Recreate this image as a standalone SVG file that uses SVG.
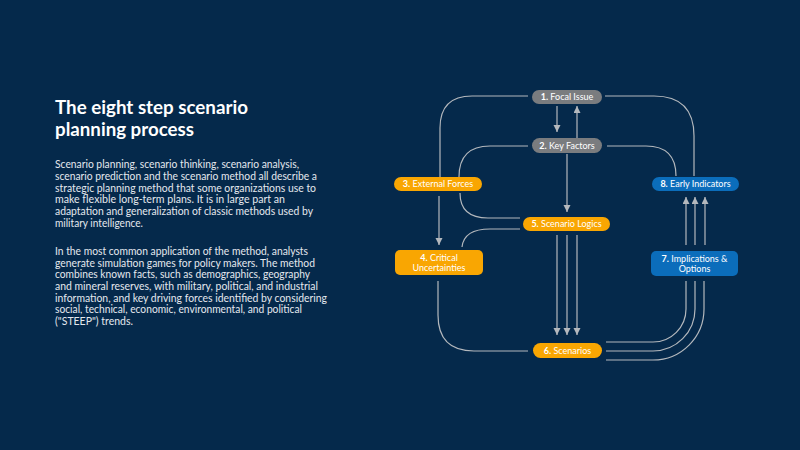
<svg xmlns="http://www.w3.org/2000/svg" width="800" height="450" viewBox="0 0 800 450">
<defs>
<marker id="ah" markerUnits="userSpaceOnUse" markerWidth="8" markerHeight="8" refX="7" refY="3.5" orient="auto">
<path d="M0,0 L7,3.5 L0,7 z" fill="#b4b8bd"/>
</marker>
<style>
.bg{fill:#05294b}
.title{font-family:Lato,"Liberation Sans",sans-serif;font-size:19px;font-weight:bold;fill:#ffffff}
.body{font-family:Lato,"Liberation Sans",sans-serif;font-size:10.5px;fill:#e4e8ee}
.lbl{font-family:Lato,"Liberation Sans",sans-serif;font-size:9px;fill:#ffffff;text-anchor:middle}
.lbl tspan.n{font-weight:bold}
.gray{fill:#7a7c7f}
.orange{fill:#f9a602}
.blue{fill:#0b6dbb}
.c{fill:none;stroke:#b4b8bd;stroke-width:1.2}
.a{fill:none;stroke:#b4b8bd;stroke-width:1.2;marker-end:url(#ah)}
</style>
</defs>
<rect class="bg" x="0" y="0" width="800" height="450"/>
<g id="text">
<text class="title" x="55" y="114" textLength="193" lengthAdjust="spacingAndGlyphs">The eight step scenario</text>
<text class="title" x="55" y="136" textLength="139" lengthAdjust="spacingAndGlyphs">planning process</text>
<text class="body" x="55" y="168.3" textLength="244" lengthAdjust="spacingAndGlyphs">Scenario planning, scenario thinking, scenario analysis,</text>
<text class="body" x="55" y="180" textLength="262" lengthAdjust="spacingAndGlyphs">scenario prediction and the scenario method all describe a</text>
<text class="body" x="55" y="191.7" textLength="261" lengthAdjust="spacingAndGlyphs">strategic planning method that some organizations use to</text>
<text class="body" x="55" y="203.3" textLength="230" lengthAdjust="spacingAndGlyphs">make flexible long-term plans. It is in large part an</text>
<text class="body" x="55" y="215" textLength="258" lengthAdjust="spacingAndGlyphs">adaptation and generalization of classic methods used by</text>
<text class="body" x="55" y="226.7" textLength="88" lengthAdjust="spacingAndGlyphs">military intelligence.</text>
<text class="body" x="55" y="255" textLength="253" lengthAdjust="spacingAndGlyphs">In the most common application of the method, analysts</text>
<text class="body" x="55" y="266.7" textLength="260" lengthAdjust="spacingAndGlyphs">generate simulation games for policy makers. The method</text>
<text class="body" x="55" y="278.3" textLength="255" lengthAdjust="spacingAndGlyphs">combines known facts, such as demographics, geography</text>
<text class="body" x="55" y="290" textLength="263" lengthAdjust="spacingAndGlyphs">and mineral reserves, with military, political, and industrial</text>
<text class="body" x="55" y="301.7" textLength="272" lengthAdjust="spacingAndGlyphs">information, and key driving forces identified by considering</text>
<text class="body" x="55" y="313.3" textLength="247" lengthAdjust="spacingAndGlyphs">social, technical, economic, environmental, and political</text>
<text class="body" x="55" y="325" textLength="78" lengthAdjust="spacingAndGlyphs">("STEEP") trends.</text>
</g>
<g id="connectors">
<path class="c" d="M528,96 H472 Q440,96 440,128 V177"/>
<path class="c" d="M605,96 H654 Q694,96 694,136 V176"/>
<path class="c" d="M528,146 H490 Q459,146 459,177"/>
<path class="c" d="M607,146 H646 Q676,146 676,176"/>
<path class="a" d="M557,106 V132"/>
<path class="a" d="M577,138 V106"/>
<path class="a" d="M567,154 V212"/>
<path class="a" d="M439,196 V245"/>
<path class="c" d="M460,193 Q460,218 488,218 H520"/>
<path class="c" d="M462,247 Q464,229 490,229 H520"/>
<path class="a" d="M557,235 V335"/>
<path class="a" d="M567,235 V335"/>
<path class="a" d="M577,235 V335"/>
<path class="c" d="M438,281 V315 Q438,351 474,351 H528"/>
<path class="c" d="M606,342 H653 A33,33 0 0 0 686,309 V281"/>
<path class="c" d="M606,351 H653 A42,42 0 0 0 695,309 V281"/>
<path class="c" d="M606,360 H653 A51,51 0 0 0 704,309 V281"/>
<path class="a" d="M686,245 V197"/>
<path class="a" d="M695,245 V197"/>
<path class="a" d="M705,245 V197"/>
</g>
<g id="n1"><rect class="gray" x="532" y="90" width="70" height="14" rx="7"/><text class="lbl" x="567" y="100.2"><tspan class="n">1.</tspan> Focal Issue</text></g>
<g id="n2"><rect class="gray" x="532" y="138" width="70" height="15" rx="7.5"/><text class="lbl" x="567" y="148.6"><tspan class="n">2.</tspan> Key Factors</text></g>
<g id="n3"><rect class="orange" x="394" y="177" width="88" height="14" rx="7"/><text class="lbl" x="438" y="187.2"><tspan class="n">3.</tspan> External Forces</text></g>
<g id="n4"><rect class="orange" x="395" y="250" width="88" height="25" rx="5"/><text class="lbl" x="439" y="260.5"><tspan class="n">4.</tspan> Critical</text><text class="lbl" x="439" y="271">Uncertainties</text></g>
<g id="n5"><rect class="orange" x="523" y="217" width="87" height="14" rx="7"/><text class="lbl" x="566.5" y="227.2"><tspan class="n">5.</tspan> Scenario Logics</text></g>
<g id="n6"><rect class="orange" x="533" y="343" width="69" height="15" rx="7.5"/><text class="lbl" x="567.5" y="353.6"><tspan class="n">6.</tspan> Scenarios</text></g>
<g id="n7"><rect class="blue" x="651" y="251" width="87" height="25" rx="5"/><text class="lbl" x="694.5" y="261.5"><tspan class="n">7.</tspan> Implications &amp;</text><text class="lbl" x="694.5" y="272">Options</text></g>
<g id="n8"><rect class="blue" x="652" y="177" width="87" height="14" rx="7"/><text class="lbl" x="695.5" y="187.2"><tspan class="n">8.</tspan> Early Indicators</text></g>
</svg>
